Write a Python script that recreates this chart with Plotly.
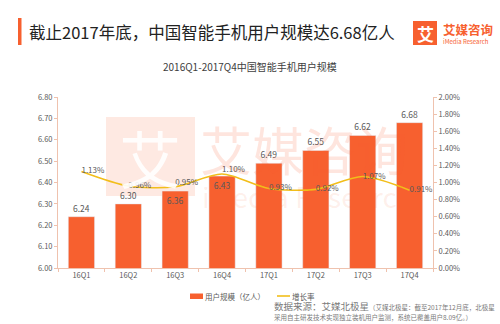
import plotly.graph_objects as go

categories = ["16Q1", "16Q2", "16Q3", "16Q4", "17Q1", "17Q2", "17Q3", "17Q4"]
users = [6.24, 6.30, 6.36, 6.43, 6.49, 6.55, 6.62, 6.68]
growth = [0.0113, 0.0096, 0.0095, 0.0110, 0.0093, 0.0092, 0.0107, 0.0091]
growth_labels = ["1.13%", "0.96%", "0.95%", "1.10%", "0.93%", "0.92%", "1.07%", "0.91%"]
bar_text_pos = ["outside", "outside", "inside", "inside", "outside", "outside", "outside", "outside"]
line_text_pos = ["middle right", "middle right", "top right", "top right",
                 "middle right", "middle right", "middle right", "middle right"]
series_names = ["用户规模（亿人）", "增长率"]

FONT = "Noto Sans CJK SC"
ORANGE = "#F7602F"
GOLD = "#F2BE1A"
AXIS = "#EFC2AE"
GRAY = "#595959"

fig = go.Figure()
fig.add_trace(go.Bar(
    x=categories, y=users, name=series_names[0],
    marker=dict(color=ORANGE), width=0.56,
    text=[f"{v:.2f}" for v in users], textposition=bar_text_pos,
    textfont=dict(size=8.5, color=GRAY, family=FONT),
    insidetextfont=dict(size=8.5, color=GRAY, family=FONT),
    outsidetextfont=dict(size=8.5, color=GRAY, family=FONT),
    insidetextanchor="end", cliponaxis=False, showlegend=False,
))
fig.add_trace(go.Scatter(
    x=categories, y=growth, name=series_names[1], yaxis="y2",
    mode="lines+text", line=dict(color=GOLD, width=1.6, shape="spline", smoothing=0.8),
    text=growth_labels, textposition=line_text_pos,
    textfont=dict(size=8, color=GRAY, family=FONT), cliponaxis=False, showlegend=False,
))

ax_common = dict(showgrid=False, zeroline=False, showline=True, linecolor=AXIS, linewidth=1,
                 ticks="outside", tickcolor=AXIS, ticklen=3,
                 tickfont=dict(size=7.5, color=GRAY, family=FONT))

fig.update_layout(
    width=500, height=324, margin=dict(l=58, r=67, t=97, b=56),
    paper_bgcolor="white", plot_bgcolor="rgba(0,0,0,0)",
    font=dict(family=FONT, color=GRAY),
    xaxis=dict(**ax_common, tickson="boundaries"),
    yaxis=dict(**ax_common, range=[6.0, 6.8], dtick=0.1, tickformat=".2f"),
    yaxis2=dict(**ax_common, overlaying="y", side="right", range=[0, 0.02],
                dtick=0.002, tickformat=".2%"),
    showlegend=False,
)

def px(x):
    return (x - 58) / 375.0

def py(y):
    return (268 - y) / 171.0

shapes = [
    # title accent bar
    dict(type="rect", xref="paper", yref="paper", x0=px(18), x1=px(21.5), y0=py(45), y1=py(18),
         fillcolor=ORANGE, line=dict(width=0)),
    # logo square
    dict(type="rect", xref="paper", yref="paper", x0=px(413), x1=px(437), y0=py(45), y1=py(21),
         fillcolor=ORANGE, line=dict(width=0)),
    # watermark square
    dict(type="rect", xref="paper", yref="paper", x0=px(106), x1=px(195), y0=py(196), y1=py(117),
         fillcolor="rgba(247,96,47,0.14)", line=dict(width=0), layer="below"),
    # legend swatches
    dict(type="rect", xref="paper", yref="paper", x0=px(190), x1=px(203), y0=py(299), y1=py(293.5),
         fillcolor=ORANGE, line=dict(width=0)),
    dict(type="line", xref="paper", yref="paper", x0=px(277), x1=px(290), y0=py(296), y1=py(296),
         line=dict(color=GOLD, width=1.6)),
]

annotations = [
    dict(text="截止2017年底，中国智能手机用户规模达6.68亿人", xref="paper", yref="paper",
         x=px(27), y=py(32), xanchor="left", yanchor="middle", showarrow=False,
         font=dict(size=16.5, color="#222222", family=FONT)),
    dict(text="<b>艾</b>", xref="paper", yref="paper", x=px(425), y=py(33),
         xanchor="center", yanchor="middle", showarrow=False,
         font=dict(size=17, color="white", family=FONT)),
    dict(text="<b>艾媒咨询</b>", xref="paper", yref="paper", x=px(441), y=py(29),
         xanchor="left", yanchor="middle", showarrow=False,
         font=dict(size=12.5, color=ORANGE, family=FONT)),
    dict(text="iMedia Research", xref="paper", yref="paper", x=px(441), y=py(41.5),
         xanchor="left", yanchor="middle", showarrow=False,
         font=dict(size=6, color=ORANGE, family=FONT)),
    dict(text="2016Q1-2017Q4中国智能手机用户规模", xref="paper", yref="paper",
         x=px(250), y=py(67), xanchor="center", yanchor="middle", showarrow=False,
         font=dict(size=10, color="#404040", family=FONT)),
    # watermark
    dict(text="艾", xref="paper", yref="paper", x=px(150), y=py(157),
         xanchor="center", yanchor="middle", showarrow=False,
         font=dict(size=62, color="rgba(255,255,255,0.9)", family=FONT)),
    dict(text="艾媒咨询", xref="paper", yref="paper", x=px(198), y=py(148),
         xanchor="left", yanchor="middle", showarrow=False,
         font=dict(size=52, color="rgba(247,96,47,0.16)", family=FONT)),
    dict(text="iMedia Research", xref="paper", yref="paper", x=px(200), y=py(196),
         xanchor="left", yanchor="middle", showarrow=False,
         font=dict(size=28, color="rgba(247,96,47,0.10)", family=FONT)),
    # legend texts
    dict(text=series_names[0], xref="paper", yref="paper", x=px(203), y=py(296),
         xanchor="left", yanchor="middle", showarrow=False,
         font=dict(size=7.5, color=GRAY, family=FONT)),
    dict(text=series_names[1], xref="paper", yref="paper", x=px(290), y=py(296),
         xanchor="left", yanchor="middle", showarrow=False,
         font=dict(size=7.5, color=GRAY, family=FONT)),
    # source
    dict(text="数据来源：艾媒北极星<span style='font-size:6.5px'>（艾媒北极星：截至2017年12月底，北极星</span>",
         xref="paper", yref="paper", x=px(272), y=py(306), xanchor="left", yanchor="middle",
         showarrow=False, font=dict(size=9.5, color="#7a7a7a", family=FONT)),
    dict(text="采用自主研发技术实现独立装机用户监测，系统已覆盖用户8.09亿。）",
         xref="paper", yref="paper", x=px(272), y=py(317), xanchor="left", yanchor="middle",
         showarrow=False, font=dict(size=6.5, color="#7a7a7a", family=FONT)),
]

fig.update_layout(shapes=shapes, annotations=annotations)
fig.write_html("out.html")
